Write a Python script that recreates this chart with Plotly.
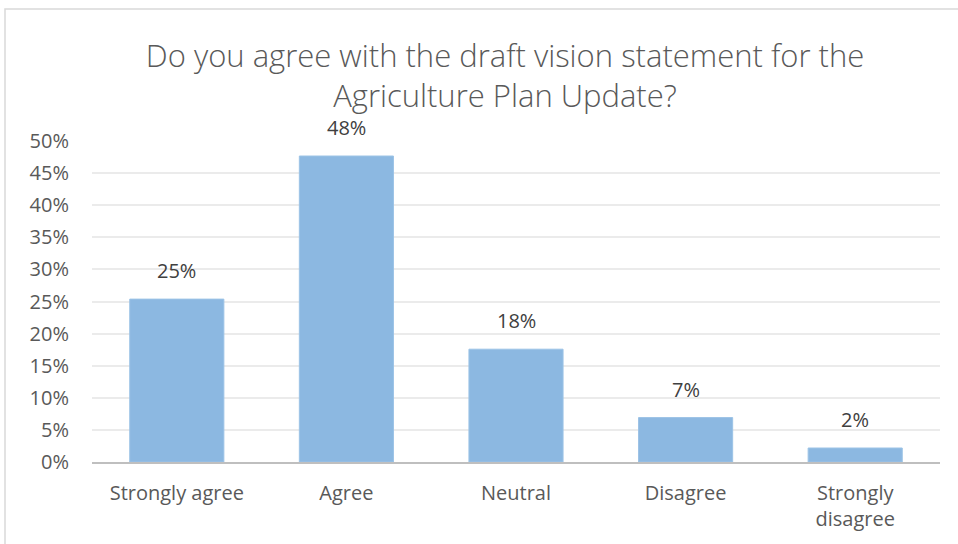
import plotly.graph_objects as go

# Survey responses (share of respondents)
categories = ["Strongly agree", "Agree", "Neutral", "Disagree", "Strongly<br>disagree"]
shares = [0.2537, 0.4766, 0.1757, 0.0692, 0.0218]
tick_values = [0, 0.05, 0.10, 0.15, 0.20, 0.25, 0.30, 0.35, 0.40, 0.45, 0.50]
title_text = "Do you agree with the draft vision statement for the<br>Agriculture Plan Update?"

W, H = 958, 544
ML, MR, MT, MB = 92, 18, 141, 82
FONT = "'Open Sans', sans-serif"

fig = go.Figure()
fig.add_trace(go.Bar(
    x=categories,
    y=shares,
    marker=dict(color="#8CB8E1", line=dict(color="#9CC3E6", width=1)),
    hoverinfo="skip",
))

# value labels above each bar
for c, v in zip(categories, shares):
    fig.add_annotation(
        x=c, y=v, text=f"{v:.0%}", showarrow=False,
        yanchor="bottom", yshift=13,
        font=dict(family=FONT, size=20, color="#404040"),
    )

pw = W - ML - MR
ph = H - MT - MB
# outer chart border
fig.add_shape(
    type="rect", xref="paper", yref="paper",
    x0=(5 - ML) / pw, x1=(W + 5 - ML) / pw,
    y0=-(H + 5 - MT - ph) / ph, y1=(H - MB - 9) / ph,
    line=dict(color="#D9D9D9", width=1.5), fillcolor="rgba(0,0,0,0)", layer="below",
)

fig.update_layout(
    width=W, height=H,
    margin=dict(l=ML, r=MR, t=MT, b=MB),
    paper_bgcolor="white", plot_bgcolor="white",
    bargap=0.445,
    showlegend=False,
    title=dict(
        text=title_text, x=505 / W, xanchor="center", xref="container",
        y=1 - 67 / H, yanchor="top", yref="container",
        font=dict(family=FONT, size=31, color="#595959", weight=300),
    ),
    xaxis=dict(
        showgrid=False, showline=True, linecolor="#BFBFBF", linewidth=2,
        ticks="", tickfont=dict(family=FONT, size=20, color="#595959"),
        ticklabelstandoff=12,
    ),
    yaxis=dict(
        range=[0, 0.5], tickvals=tick_values, tickformat=".0%",
        showgrid=True, gridcolor="#EBEBEB", gridwidth=1.5,
        zeroline=False, showline=False, ticks="",
        tickfont=dict(family=FONT, size=20, color="#595959"),
        ticklabelstandoff=22,
    ),
)

fig.write_html("out.html")
